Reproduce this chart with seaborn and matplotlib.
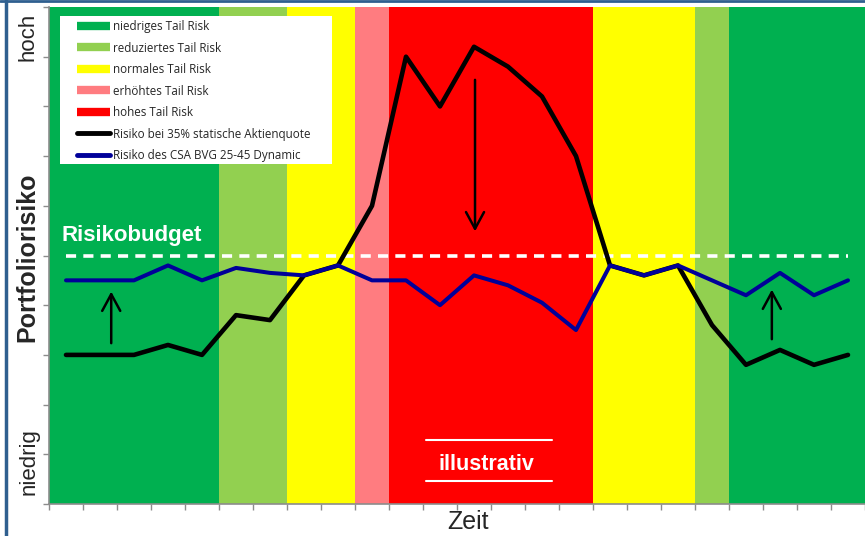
import numpy as np
import pandas as pd
import matplotlib
matplotlib.use("Agg")
import matplotlib.pyplot as plt
import seaborn as sns
from matplotlib.lines import Line2D
from matplotlib.patches import Rectangle

# risk regimes (number of periods per band)
band_labels = ["niedriges Tail Risk", "reduziertes Tail Risk", "normales Tail Risk",
               "erhöhtes Tail Risk", "hohes Tail Risk"]
band_colors = {"niedriges Tail Risk": "#00B050", "reduziertes Tail Risk": "#92D050",
               "normales Tail Risk": "#FFFF00", "erhöhtes Tail Risk": "#FF7C80",
               "hohes Tail Risk": "#FF0000"}
band_sequence = ["niedriges Tail Risk", "reduziertes Tail Risk", "normales Tail Risk",
                 "erhöhtes Tail Risk", "hohes Tail Risk", "normales Tail Risk",
                 "reduziertes Tail Risk", "niedriges Tail Risk"]
band_lengths = [5, 2, 2, 1, 6, 3, 1, 4]

# risk series (0 = niedrig, 10 = hoch)
risk_static = [3.0, 3.0, 3.0, 3.2, 3.0, 3.8, 3.7, 4.6, 4.8, 6.0, 9.0, 8.0,
               9.2, 8.8, 8.2, 7.0, 4.8, 4.6, 4.8, 3.6, 2.8, 3.1, 2.8, 3.0]
risk_dynamic = [4.5, 4.5, 4.5, 4.8, 4.5, 4.75, 4.65, 4.6, 4.8, 4.5, 4.5, 4.0,
                4.6, 4.4, 4.05, 3.5, 4.8, 4.6, 4.8, 4.5, 4.2, 4.65, 4.2, 4.5]
risk_budget = 5.0
label_static = "Risiko bei 35% statische Aktienquote"
label_dynamic = "Risiko des CSA BVG 25-45 Dynamic"

periods = np.arange(len(risk_static))
df = pd.DataFrame({"t": np.concatenate([periods, periods]),
                   "risk": risk_static + risk_dynamic,
                   "serie": [label_static] * len(periods) + [label_dynamic] * len(periods)})

sns.set_style("white")
plt.rcParams['font.family'] = ['Liberation Sans', 'DejaVu Sans']

W, H = 865, 536
fig = plt.figure(figsize=(W / 100, H / 100), dpi=100)
ax = fig.add_axes([49 / W, 32 / H, 816 / W, 497 / H])

# background bands
start = -0.5
for name, n in zip(band_sequence, band_lengths):
    ax.axvspan(start, start + n, color=band_colors[name], lw=0, zorder=0)
    start += n

ax.plot([0, len(periods) - 1], [risk_budget, risk_budget], color="white",
        lw=2.6, dashes=(2.8, 2.0), zorder=2)

sns.lineplot(data=df, x="t", y="risk", hue="serie",
             palette={label_static: "black", label_dynamic: "#000099"},
             ax=ax, legend=False, zorder=3)
for line, lw in zip(ax.get_lines()[1:], [3.3, 2.9]):
    line.set_linewidth(lw)

# arrows
arrow_kw = dict(arrowstyle="->,head_length=1.2,head_width=0.65", lw=1.8, color="black")
ax.annotate("", xy=(1.33, 4.33), xytext=(1.33, 3.18), arrowprops=arrow_kw, zorder=4)
ax.annotate("", xy=(12.03, 5.43), xytext=(12.03, 8.59), arrowprops=arrow_kw, zorder=4)
ax.annotate("", xy=(20.76, 4.37), xytext=(20.76, 3.26), arrowprops=arrow_kw, zorder=4)

ax.text(-0.12, 5.2, "Risikobudget", color="white", fontsize=16,
        fontweight="bold", va="bottom", ha="left", zorder=5)
ax.text(12.38, 0.8, "illustrativ", color="white", fontsize=15.5,
        fontweight="bold", va="center", ha="center", zorder=5)
ax.plot([10.6, 14.3], [1.29, 1.29], color="white", lw=1.5, zorder=5)
ax.plot([10.6, 14.3], [0.46, 0.46], color="white", lw=1.5, zorder=5)

ax.set_xlim(-0.5, len(periods) - 0.5)
ax.set_ylim(0, 10)
ax.set_xticks(np.arange(-0.5, len(periods), 1))
ax.set_yticks(np.arange(0, 11, 1))
ax.set_xticklabels([])
ax.set_yticklabels([])
ax.tick_params(axis="both", direction="out", length=4, width=1, color="#8C8C8C")
ax.tick_params(axis="x", bottom=True)
ax.tick_params(axis="y", left=True)
for side in ["top", "right"]:
    ax.spines[side].set_visible(False)
for side in ["left", "bottom"]:
    ax.spines[side].set_color("#8C8C8C")
    ax.spines[side].set_linewidth(1.2)

ax.set_xlabel("")
ax.set_ylabel("")
fig.text(468 / W, 1 - 522 / H, "Zeit", fontsize=18, ha="center", va="center")
fig.text(28 / W, 1 - 37 / H, "hoch", rotation=90, fontsize=16,
         ha="center", va="center")
fig.text(29 / W, 1 - 462 / H, "niedrig", rotation=90, fontsize=16,
         ha="center", va="center")
fig.text(27 / W, 1 - 257 / H, "Portfoliorisiko", rotation=90, fontsize=18,
         fontweight="bold", ha="center", va="center")

# legend on a white box
fig.add_artist(Rectangle((60 / W, 1 - 164 / H), 272 / W, 148 / H,
                         transform=fig.transFigure, facecolor="white",
                         edgecolor="none", zorder=5))
handles = [Line2D([], [], color=band_colors[b], lw=6, solid_capstyle="butt") for b in band_labels]
handles += [Line2D([], [], color="black", lw=3.5, solid_capstyle="round"),
            Line2D([], [], color="#000099", lw=3.5, solid_capstyle="round")]
leg = fig.legend(handles, band_labels + [label_static, label_dynamic],
                 loc="upper left", bbox_to_anchor=(77 / W, 1 - 20 / H),
                 bbox_transform=fig.transFigure, frameon=False,
                 prop={"family": "Open Sans", "size": 8.4},
                 handlelength=2.8, handletextpad=0.25, labelspacing=0.73,
                 borderpad=0, borderaxespad=0)
leg.set_zorder(6)

# outer frame lines
fig.add_artist(Line2D([5.5 / W, 5.5 / W], [0, 1], color="#2F5F8F", lw=2.5))
fig.add_artist(Line2D([0, 1], [1 - 1 / H, 1 - 1 / H], color="#2F5F8F", lw=2))

fig.savefig("out.png", dpi=100)
